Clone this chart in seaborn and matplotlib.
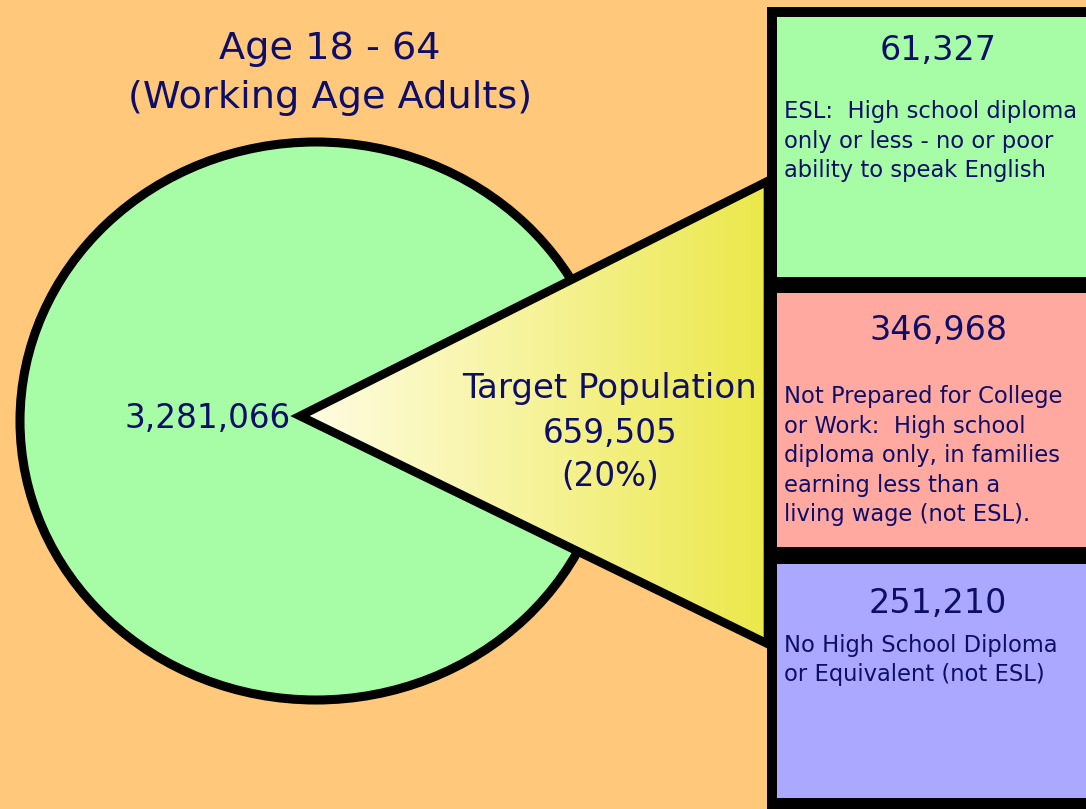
import matplotlib
matplotlib.use("Agg")
import matplotlib.pyplot as plt
import numpy as np
import seaborn as sns
from matplotlib.patches import Ellipse, Polygon, Rectangle

title_lines = ["Age 18 - 64", "(Working Age Adults)"]
total_adults = 3281066
target_label = "Target Population"
group_values = [61327, 346968, 251210]
group_desc = [
    "ESL:  High school diploma\nonly or less - no or poor\nability to speak English",
    "Not Prepared for College\nor Work:  High school\ndiploma only, in families\nearning less than a\nliving wage (not ESL).",
    "No High School Diploma\nor Equivalent (not ESL)",
]

target_pop = sum(group_values)
target_pct = round(100 * target_pop / total_adults)

# styling
bg = "#FFC87A"
green = "#A6FDA6"
box_colors = ["#A6FDA6", "#FFA9A0", "#ABA9FF"]
navy = "#0E0E68"

sns.set_theme(style="white")
plt.rcParams["font.family"] = ["DejaVu Sans"]

fig = plt.figure(figsize=(10.86, 8.09), dpi=100, facecolor=bg)
ax = fig.add_axes([0, 0, 1, 1])
ax.set_xlim(0, 1086)
ax.set_ylim(809, 0)
ax.axis("off")

# big population circle
ax.add_patch(Ellipse((316, 421), 592, 558, facecolor=green, edgecolor="black",
                     lw=6.5, zorder=1))

# wedge pulled out toward the boxes, with a cream-to-yellow gradient
tri = [(300, 416), (768, 181), (768, 644)]
cmap = sns.blend_palette(["#FFFDE4", "#F6F39A", "#EBE84A"], as_cmap=True)
grad = np.linspace(0, 1, 256).reshape(1, -1)
im = ax.imshow(grad, cmap=cmap, extent=(300, 768, 809, 0), aspect="auto", zorder=2)
clip = Polygon(tri, closed=True, transform=ax.transData, facecolor="none")
im.set_clip_path(clip)
ax.add_patch(Polygon(tri, closed=True, facecolor="none", edgecolor="black",
                     lw=6.2, joinstyle="miter", zorder=3))

# boxes on the right
ax.add_patch(Rectangle((767, 7), 330, 820, facecolor="black", edgecolor="none",
                       zorder=4))
box_tops = [17, 293, 564]
box_bottoms = [277, 547, 798]
num_baselines = [60, 340, 613]
desc_baselines = [118, 403, 652]
for i, val in enumerate(group_values):
    ax.add_patch(Rectangle((777, box_tops[i]), 320, box_bottoms[i] - box_tops[i],
                           facecolor=box_colors[i], edgecolor="none", zorder=5))
    ax.text(938, num_baselines[i], f"{val:,}", ha="center", va="baseline",
            fontsize=24, color=navy, zorder=6)
    for j, line in enumerate(group_desc[i].split("\n")):
        ax.text(784, desc_baselines[i] + j * 29.5, line, ha="left", va="baseline",
                fontsize=16.3, color=navy, zorder=6)

# titles and labels
ax.text(330, 59, title_lines[0], ha="center", va="baseline", fontsize=27.5, color=navy)
ax.text(330, 108, title_lines[1], ha="center", va="baseline", fontsize=27.5, color=navy)
ax.text(208, 428, f"{total_adults:,}", ha="center", va="baseline", fontsize=23.5,
        color=navy, zorder=6)
ax.text(609, 398, target_label, ha="center", va="baseline", fontsize=24.5,
        color=navy, zorder=6)
ax.text(610, 443, f"{target_pop:,}", ha="center", va="baseline", fontsize=23.5,
        color=navy, zorder=6)
ax.text(610, 486, f"({target_pct}%)", ha="center", va="baseline", fontsize=23.5,
        color=navy, zorder=6)

plt.savefig("out.png", dpi=100, facecolor=fig.get_facecolor())
